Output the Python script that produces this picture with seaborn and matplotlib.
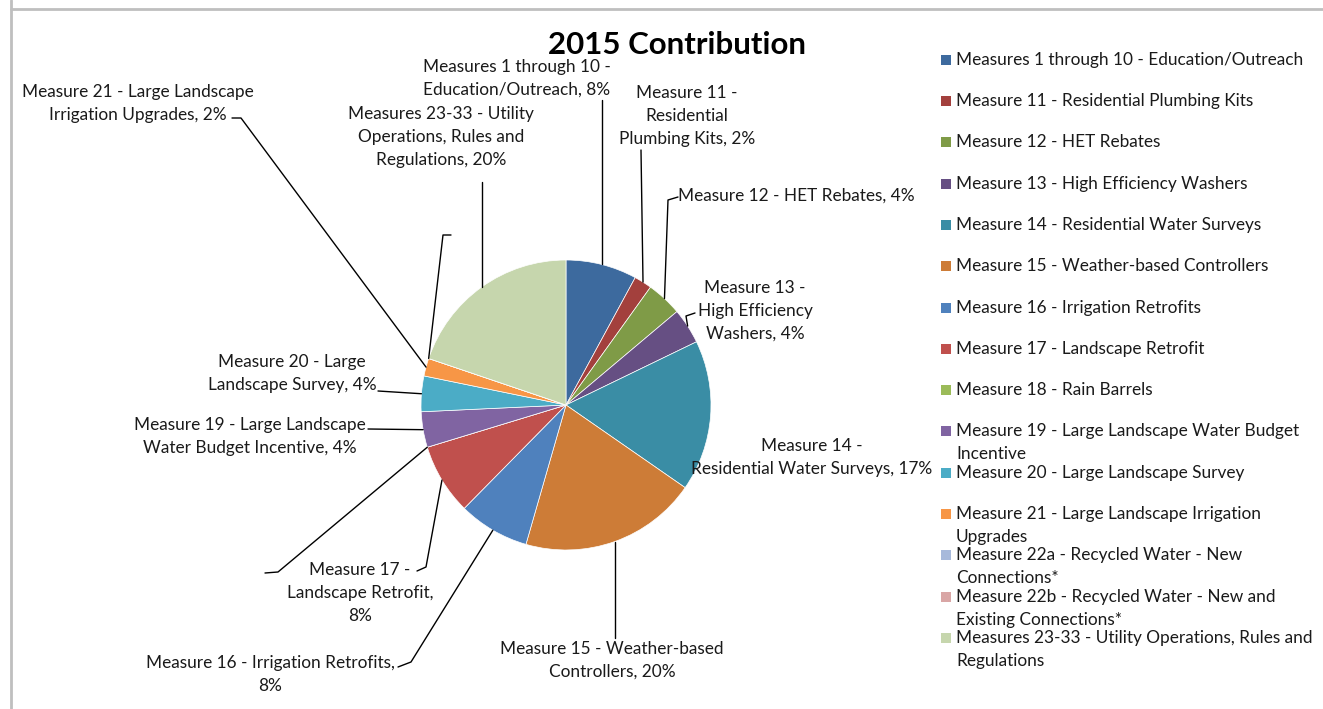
import matplotlib
matplotlib.use("Agg")
import matplotlib.pyplot as plt
from matplotlib.patches import Rectangle
from matplotlib.lines import Line2D
import numpy as np
import seaborn as sns

# ---- data -------------------------------------------------------------
categories = [
    "Measures 1 through 10 - Education/Outreach",
    "Measure 11 - Residential Plumbing Kits",
    "Measure 12 - HET Rebates",
    "Measure 13 - High Efficiency Washers",
    "Measure 14 - Residential Water Surveys",
    "Measure 15 - Weather-based Controllers",
    "Measure 16 - Irrigation Retrofits",
    "Measure 17 - Landscape Retrofit",
    "Measure 18 - Rain Barrels",
    "Measure 19 - Large Landscape Water Budget\nIncentive",
    "Measure 20 - Large Landscape Survey",
    "Measure 21 - Large Landscape Irrigation\nUpgrades",
    "Measure 22a - Recycled Water - New\nConnections*",
    "Measure 22b - Recycled Water - New and\nExisting Connections*",
    "Measures 23-33 - Utility Operations, Rules and\nRegulations",
]
shares = [8, 2, 4, 4, 17, 20, 8, 8, 0, 4, 4, 2, 0, 0, 20]

# data-label templates (None = no label text)
label_templates = [
    "Measures 1 through 10 -\nEducation/Outreach, {}%",
    "Measure 11 -\nResidential\nPlumbing Kits, {}%",
    "Measure 12 - HET Rebates, {}%",
    "Measure 13 -\nHigh Efficiency\nWashers, {}%",
    "Measure 14 -\nResidential Water Surveys, {}%",
    "Measure 15 - Weather-based\nControllers, {}%",
    "Measure 16 - Irrigation Retrofits,\n{}%",
    "Measure 17 -\nLandscape Retrofit,\n{}%",
    None,
    "Measure 19 - Large Landscape\nWater Budget Incentive, {}%",
    "Measure 20 - Large\nLandscape Survey, {}%",
    "Measure 21 - Large Landscape\nIrrigation Upgrades, {}%",
    None,
    None,
    "Measures 23-33 - Utility\nOperations, Rules and\nRegulations, {}%",
]

colors = ["#3D6A9E", "#A3403D", "#7F9B47", "#664F83", "#3A8DA5",
          "#CD7C37", "#4F81BD", "#C0504D", "#9BBB59", "#8064A2",
          "#4BACC6", "#F79646", "#A7B9DB", "#D9A6A5", "#C6D6AD"]

# ---- layout (pixel units, origin top-left) ----------------------------
W, H = 1323, 709
PIE_C = (566, 405)
PIE_R = 145
LINE = 23  # text line pitch in px

# (centre x, first-line y) of each data label
label_pos = [(517, 67), (687, 93), (796, 196), (755, 288), (812, 446),
             (612, 649), (270, 663), (360, 570), None, (250, 425),
             (292, 362), (138, 92), None, None, (441, 114)]

# leader-line waypoints from the slice edge towards each label
# ("V" = vertical run to the given y)
leaders = [
    ("V", 100), [(641, 150)], [(668, 200), (678, 197)],
    [(686, 316), (695, 313)], None, ("V", 638),
    [(411, 662), (398, 667)], [(426, 567), (417, 571)],
    [(278, 572), (265, 573)], [(368, 429)], [(378, 391)],
    [(241, 118), (232, 118)], [(443, 235), (451, 235)], None, ("V", 182),
]

sns.set_theme(style="white")
FONT = ["Lato", "DejaVu Sans"]
plt.rcParams["font.family"] = FONT
TXT = "#1a1a1a"
FS = 12.4

palette = sns.color_palette(colors)

fig = plt.figure(figsize=(W / 100, H / 100), dpi=100)
ax = fig.add_axes([0, 0, 1, 1])


def Y(y):
    return H - y


def lines_at(x, y, text, ha):
    for i, line in enumerate(text.split("\n")):
        ax.text(x, Y(y + i * LINE), line, ha=ha, va="center",
                fontsize=FS, color=TXT)


wedges, _ = ax.pie(shares, colors=palette, startangle=90, counterclock=False,
                   radius=PIE_R, center=(PIE_C[0], Y(PIE_C[1])),
                   wedgeprops=dict(edgecolor="white", linewidth=0.5))
ax.set_xlim(0, W)
ax.set_ylim(0, H)
ax.set_aspect("equal", adjustable="box")
ax.axis("off")

# data labels and leader lines
for w, val, tmpl, pos, lead in zip(wedges, shares, label_templates, label_pos, leaders):
    mid = np.deg2rad((w.theta1 + w.theta2) / 2)
    ex = PIE_C[0] + PIE_R * np.cos(mid)
    ey = Y(PIE_C[1]) + PIE_R * np.sin(mid)
    if lead is not None:
        if isinstance(lead, tuple) and lead[0] == "V":
            xs, ys = [ex, ex], [ey, Y(lead[1])]
        else:
            xs = [ex] + [p[0] for p in lead]
            ys = [ey] + [Y(p[1]) for p in lead]
        ax.add_line(Line2D(xs, ys, color="black", lw=1.0))
    if tmpl is not None:
        lines_at(pos[0], pos[1], tmpl.format(val), "center")

# title
ax.text(677, Y(45), "2015 Contribution", ha="center", va="center",
        fontsize=22.5, fontweight="bold", color="black")

# legend
legend_y = [60, 101, 142, 184, 225, 266, 308, 349, 390, 431, 473, 514, 555, 597, 638]
for name, col, ly in zip(categories, palette, legend_y):
    ax.add_patch(Rectangle((941, Y(ly) - 5), 10, 10, facecolor=col, edgecolor="none"))
    lines_at(956, ly, name, "left")

# chart-area frame
ax.add_line(Line2D([11, W], [Y(9), Y(9)], color="#BFBFBF", lw=2))
ax.add_line(Line2D([11, 11], [0, H], color="#BFBFBF", lw=2))

fig.savefig("out.png", dpi=100)
